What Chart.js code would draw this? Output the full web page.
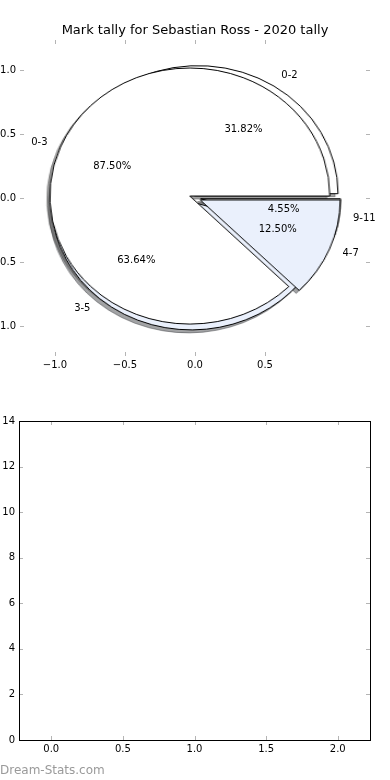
<!DOCTYPE html>
<html>
<head>
<meta charset="utf-8">
<script src="https://cdn.jsdelivr.net/npm/chart.js@4.4.1/dist/chart.umd.min.js"></script>
<style>
  html, body { margin: 0; padding: 0; background: #fff; }
  #page { position: relative; width: 390px; height: 780px; overflow: hidden; }
  canvas { position: absolute; }
  #watermark { position: absolute; left: 0; top: 763px; line-height: 16px;
               font: 12px 'DejaVu Sans', sans-serif; color: #9a9a9a; }
</style>
</head>
<body>
<div id="page">
  <canvas id="shadowA" width="300" height="300"></canvas>
  <canvas id="shadowB" width="300" height="300"></canvas>
  <canvas id="pieA" width="300" height="300"></canvas>
  <canvas id="pieB" width="300" height="300"></canvas>
  <canvas id="axesTop" width="390" height="390" style="left:0;top:0"></canvas>
  <canvas id="axesBottom" width="390" height="390" style="left:0;top:390px"></canvas>
  <div id="watermark">Dream-Stats.com</div>
</div>
<script>
// --- datos ---
const chartTitle = 'Mark tally for Sebastian Ross - 2020 tally';
const pieALabels = ['0-2', '3-5', '9-11'];
const pieAValues = [7, 14, 1];
const pieBLabels = ['0-3', '4-7'];
const pieBValues = [7, 1];
const topXTicks = [-1.0, -0.5, 0.0, 0.5];
const topYTicks = [-1.0, -0.5, 0.0, 0.5, 1.0];
const bottomXTicks = [0.0, 0.5, 1.0, 1.5, 2.0];
const bottomYTicks = [0, 2, 4, 6, 8, 10, 12, 14];

// --- estilo ---
const FONT = "'DejaVu Sans', sans-serif";
const sliceColours = ['#ffffff', '#eaf0fc'];
const EXPLODE = 0.04;       // en unidades del eje
const SHADOW_OFF = -0.02;   // desplazamiento de la sombra
const LABEL_R = 1.1, PCT_R = 0.6;
const TICK_COLOUR = '#b4b4b4';

const fmt1 = v => Number(v).toFixed(1).replace('-', '\u2212');

// marcas de tick hacia dentro en los cuatro lados (+ marco opcional)
const innerTicks = {
  id: 'innerTicks',
  afterDraw(chart, args, opts) {
    const {ctx, chartArea: a, scales: {x, y}} = chart;
    ctx.save();
    ctx.strokeStyle = TICK_COLOUR;
    ctx.lineWidth = 1;
    ctx.beginPath();
    x.ticks.forEach(t => {
      const px = Math.round(x.getPixelForValue(t.value)) + 0.5;
      ctx.moveTo(px, a.top); ctx.lineTo(px, a.top + 4);
      ctx.moveTo(px, a.bottom); ctx.lineTo(px, a.bottom - 4);
    });
    y.ticks.forEach(t => {
      const py = Math.round(y.getPixelForValue(t.value)) + 0.5;
      ctx.moveTo(a.left, py); ctx.lineTo(a.left + 4, py);
      ctx.moveTo(a.right, py); ctx.lineTo(a.right - 4, py);
    });
    ctx.stroke();
    if (opts.frame) {
      ctx.strokeStyle = '#000';
      ctx.strokeRect(Math.round(a.left) + 0.5, Math.round(a.top) + 0.5,
                     Math.round(a.right - a.left), Math.round(a.bottom - a.top));
    }
    ctx.restore();
  }
};

// etiquetas y porcentajes de las dos tartas, en coordenadas del eje
const pieText = {
  id: 'pieText',
  afterDraw(chart) {
    const {ctx, scales: {x, y}} = chart;
    ctx.save();
    ctx.font = '10px ' + FONT;
    ctx.fillStyle = '#000';
    ctx.textBaseline = 'middle';
    [[pieALabels, pieAValues], [pieBLabels, pieBValues]].forEach(([labels, values]) => {
      const total = values.reduce((s, v) => s + v, 0);
      let start = 0;
      values.forEach((v, i) => {
        const frac = v / total;
        const mid = (start + frac / 2) * 2 * Math.PI;
        start += frac;
        const c = Math.cos(mid), s = Math.sin(mid);
        const ex = EXPLODE * c, ey = EXPLODE * s;
        ctx.textAlign = c > 0 ? 'left' : 'right';
        ctx.fillText(labels[i], x.getPixelForValue(ex + LABEL_R * c), y.getPixelForValue(ey + LABEL_R * s));
        ctx.textAlign = 'center';
        ctx.fillText((frac * 100).toFixed(2) + '%', x.getPixelForValue(ex + PCT_R * c), y.getPixelForValue(ey + PCT_R * s));
      });
    });
    ctx.restore();
  }
};

// separa cada porción del centro (como explode de matplotlib)
const explodePlugin = {
  id: 'explode',
  beforeDatasetDraw(chart, args, opts) {
    const a = chart.chartArea;
    const cx = (a.left + a.right) / 2, cy = (a.top + a.bottom) / 2;
    args.meta.data.forEach(arc => {
      const mid = (arc.startAngle + arc.endAngle) / 2;
      arc.x = cx + Math.cos(mid) * opts.amount;
      arc.y = cy + Math.sin(mid) * opts.amount;
    });
  }
};

const tickFont = { family: FONT, size: 10 };

const topChart = new Chart(document.getElementById('axesTop'), {
  type: 'scatter',
  data: { datasets: [{ data: [] }] },
  options: {
    responsive: false, animation: false, events: [],
    layout: { padding: 0 },
    plugins: {
      legend: { display: false },
      tooltip: { enabled: false },
      title: { display: true, text: chartTitle, color: '#000',
               font: { family: FONT, size: 13, weight: 'normal' },
               padding: { top: 23, bottom: 1.4 } },
      innerTicks: { frame: false }
    },
    scales: {
      x: {
        type: 'linear', min: -1.25, max: 1.25,
        grid: { display: false, drawTicks: false }, border: { display: false },
        afterBuildTicks: s => { s.ticks = topXTicks.map(v => ({ value: v })); },
        afterFit: s => { s.height = 34; },
        ticks: { callback: fmt1, color: '#000', font: tickFont, padding: 3, maxRotation: 0, autoSkip: false }
      },
      y: {
        type: 'linear', min: -1.234, max: 1.234,
        grid: { display: false, drawTicks: false }, border: { display: false },
        afterBuildTicks: s => { s.ticks = topYTicks.map(v => ({ value: v })); },
        afterFit: s => { s.width = 20; },
        ticks: { callback: fmt1, color: '#000', font: tickFont, padding: 4, autoSkip: false }
      },
      // margen derecho vacío, para que el título quede centrado en la figura
      yRight: {
        type: 'linear', position: 'right', min: 0, max: 1,
        grid: { display: false, drawTicks: false }, border: { display: false },
        ticks: { display: false },
        afterFit: s => { s.width = 20; }
      }
    }
  },
  plugins: [innerTicks, pieText]
});

// geometría de la tarta a partir de las escalas del eje superior
const xs = topChart.scales.x, ys = topChart.scales.y;
const cx = xs.getPixelForValue(0), cy = ys.getPixelForValue(0);
const rx = xs.getPixelForValue(1) - cx, ry = cy - ys.getPixelForValue(1);

function shade(hex) {
  const n = parseInt(hex.slice(1), 16);
  const r = (n >> 16) & 255, g = (n >> 8) & 255, b = n & 255;
  return `rgba(${Math.round(r * 0.3)},${Math.round(g * 0.3)},${Math.round(b * 0.3)},0.5)`;
}

function makePie(id, labels, values, shadow) {
  const canvas = document.getElementById(id);
  const size = canvas.width;
  const dx = shadow ? SHADOW_OFF * rx : 0, dy = shadow ? -SHADOW_OFF * ry : 0;
  canvas.style.left = (cx - size / 2 + dx) + 'px';
  canvas.style.top = (cy - size / 2 + dy) + 'px';
  canvas.style.transform = `scaleX(${rx / ry})`;
  const faces = values.map((v, i) => sliceColours[i % sliceColours.length]);
  const fills = shadow ? faces.map(shade) : faces;
  const edges = shadow ? fills : faces.map(() => '#000');
  // Chart.js gira en sentido horario desde arriba: invertir y rotar 90 para
  // empezar en el este en sentido antihorario
  return new Chart(canvas, {
    type: 'pie',
    data: {
      labels: labels.slice().reverse(),
      datasets: [{
        data: values.slice().reverse(),
        backgroundColor: fills.slice().reverse(),
        borderColor: edges.slice().reverse(),
        borderWidth: 1,
        borderJoinStyle: 'miter'
      }]
    },
    options: {
      responsive: false, animation: false, events: [],
      rotation: 90, radius: ry,
      layout: { padding: 0 },
      plugins: { legend: { display: false }, tooltip: { enabled: false },
                 explode: { amount: EXPLODE * ry } }
    },
    plugins: [explodePlugin]
  });
}

makePie('shadowA', pieALabels, pieAValues, true);
makePie('shadowB', pieBLabels, pieBValues, true);
makePie('pieA', pieALabels, pieAValues, false);
makePie('pieB', pieBLabels, pieBValues, false);

new Chart(document.getElementById('axesBottom'), {
  type: 'scatter',
  data: { datasets: [{ data: [] }] },
  options: {
    responsive: false, animation: false, events: [],
    layout: { padding: { left: 0, right: 20, top: 31, bottom: 0 } },
    plugins: { legend: { display: false }, tooltip: { enabled: false }, innerTicks: { frame: true } },
    scales: {
      x: {
        type: 'linear', min: -0.225, max: 2.225,
        grid: { display: false, drawTicks: false }, border: { display: false },
        afterBuildTicks: s => { s.ticks = bottomXTicks.map(v => ({ value: v })); },
        afterFit: s => { s.height = 40; },
        ticks: { callback: fmt1, color: '#000', font: tickFont, padding: 3, maxRotation: 0, autoSkip: false }
      },
      y: {
        type: 'linear', min: 0, max: 14,
        grid: { display: false, drawTicks: false }, border: { display: false },
        afterBuildTicks: s => { s.ticks = bottomYTicks.map(v => ({ value: v })); },
        afterFit: s => { s.width = 19; },
        ticks: { callback: v => String(v), color: '#000', font: tickFont, padding: 4, autoSkip: false }
      }
    }
  },
  plugins: [innerTicks]
});
</script>
</body>
</html>
